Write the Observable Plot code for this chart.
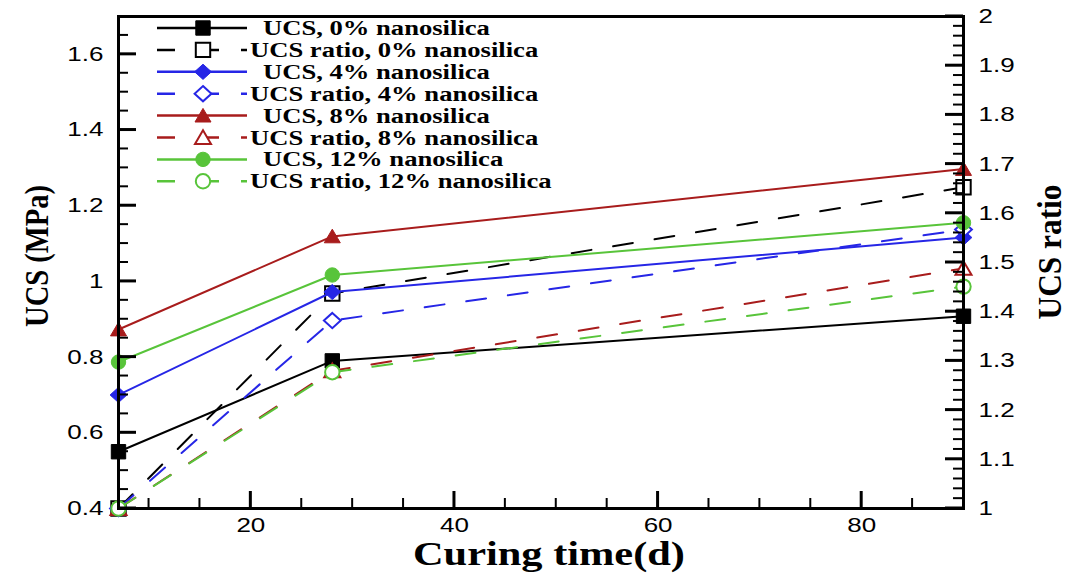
<!DOCTYPE html>
<html><head><meta charset="utf-8">
<script src="https://cdn.jsdelivr.net/npm/d3@7"></script>
<script src="https://cdn.jsdelivr.net/npm/@observablehq/plot@0.6"></script>
<style>
html,body{margin:0;padding:0;background:#fff;}
#chart{position:relative;width:1073px;height:573px;}
</style></head><body><div id="chart"></div>
<script>
// ---- data ----
const days = [7, 28, 90];
const ucs0 = [0.55, 0.79, 0.908];
const ucs4 = [0.70, 0.972, 1.116];
const ucs8 = [0.873, 1.119, 1.297];
const ucs12 = [0.787, 1.017, 1.155];
const ratio0 = [1.0, 1.437, 1.653];
const ratio4 = [1.0, 1.382, 1.567];
const ratio8 = [1.0, 1.28, 1.488];
const ratio12 = [1.0, 1.277, 1.451];
const contents = ["0%", "4%", "8%", "12%"];
const xMajor = [20, 40, 60, 80];
const yMajor = [0.4, 0.6, 0.8, 1, 1.2, 1.4, 1.6];
const ratioMajor = [1, 1.1, 1.2, 1.3, 1.4, 1.5, 1.6, 1.7, 1.8, 1.9, 2];
const xMinor = d3.range(10, 90, 5).filter(v => v % 20 !== 0);
const yMinor = d3.range(9, 34).map(k => k * 0.05).filter(v => Math.abs(v * 5 - Math.round(v * 5)) > 1e-6);
const ratioMinor = d3.range(51, 100).map(k => k * 0.02).filter(v => Math.abs(v * 10 - Math.round(v * 10)) > 1e-6);

const ucsSeries = [ucs0, ucs4, ucs8, ucs12];
const ratioSeries = [ratio0, ratio4, ratio8, ratio12];
const colors = ["#000000", "#2626e6", "#a81c1c", "#58c43a"];

// right axis (UCS ratio) expressed in left-axis units
const toLeft = r => 0.4 + (r - 1) * 1.3;
const toRatio = v => 1 + (v - 0.4) / 1.3;

// ---- symbols ----
const rOf = size => Math.sqrt(size / Math.PI);
const symSquare = {draw(c, size){const s = 0.9 * rOf(size); c.moveTo(-s,-s); c.lineTo(s,-s); c.lineTo(s,s); c.lineTo(-s,s); c.closePath();}};
const symDiamond = {draw(c, size){const r = rOf(size); const w = 1.05*r, h = 0.95*r; c.moveTo(0,-h); c.lineTo(w,0); c.lineTo(0,h); c.lineTo(-w,0); c.closePath();}};
const symTriangle = {draw(c, size){const r = rOf(size); c.moveTo(0,-0.9*r); c.lineTo(r,0.8*r); c.lineTo(-r,0.8*r); c.closePath();}};
const symCircle = {draw(c, size){const r = 0.9 * rOf(size); c.moveTo(r,0); c.arc(0,0,r,0,2*Math.PI);}};
const symbols = [symSquare, symDiamond, symTriangle, symCircle];

const rows = (vals, i, conv) => days.map((d, k) => ({day: d, value: conv(vals[k]), content: contents[i]}));

const marks = [];
for (let i = 0; i < 4; i++) {
  const u = rows(ucsSeries[i], i, v => v);
  const r = rows(ratioSeries[i], i, toLeft);
  marks.push(Plot.line(u, {x: "day", y: "value", stroke: colors[i], strokeWidth: 2}));
  marks.push(Plot.dot(u, {x: "day", y: "value", r: 8, symbol: symbols[i], fill: colors[i], stroke: colors[i], strokeWidth: 1}));
  marks.push(Plot.line(r, {x: "day", y: "value", stroke: colors[i], strokeWidth: 2, strokeDasharray: "20,22"}));
  marks.push(Plot.dot(r, {x: "day", y: "value", r: 8, symbol: symbols[i], fill: "white", stroke: colors[i], strokeWidth: 2}));
}

const W = 1073, H = 573, mL = 118, mR = 110, mT = 16, mB = 65;
const fmt = d3.format("~g");
const chart = Plot.plot({
  width: W, height: H,
  marginLeft: mL, marginRight: mR, marginTop: mT, marginBottom: mB,
  style: {fontFamily: "Liberation Sans", fontSize: "20px", color: "black", background: "white", overflow: "visible"},
  x: {domain: [7, 90], label: null},
  y: {domain: [0.4, 1.7], label: null},
  marks: [
    ...marks,
    Plot.axisY(yMajor, {anchor: "left", tickSize: 0, tickPadding: 15, tickFormat: fmt, label: null}),
    Plot.axisY(ratioMajor.map(toLeft), {anchor: "right", tickSize: 0, tickPadding: 15, tickFormat: d => fmt(+toRatio(d).toFixed(2)), label: null}),
    Plot.axisX(xMajor, {anchor: "bottom", tickSize: 0, tickPadding: 9, tickFormat: fmt, label: null}),
    Plot.frame({stroke: "black", strokeWidth: 3})
  ]
});
document.getElementById("chart").appendChild(chart);

function stretch(t, f) {
  const w = t.getComputedTextLength();
  if (w > 0) { t.setAttribute("textLength", w * f); t.setAttribute("lengthAdjust", "spacingAndGlyphs"); }
}
chart.querySelectorAll('g[aria-label$="tick label"] text').forEach(t => stretch(t, 1.3));

const svg = d3.select(chart);
// inward ticks, positioned through the chart's own scales
const sx = chart.scale("x"), sy = chart.scale("y");
const xl = sx.apply(7), xr = sx.apply(90), yb = sy.apply(0.4);
const tg = svg.append("g").attr("stroke", "black");
const addY = (vals, x0, dir, len, w) => vals.forEach(v => {
  const y = sy.apply(v);
  tg.append("line").attr("x1", x0).attr("x2", x0 + dir * len).attr("y1", y).attr("y2", y).attr("stroke-width", w);
});
addY(yMinor, xl, 1, 10, 2);
addY(yMajor, xl, 1, 18, 3);
addY(ratioMinor.map(toLeft), xr, -1, 10, 2);
addY(ratioMajor.map(toLeft), xr, -1, 18, 3);
const addX = (vals, len, w) => vals.forEach(v => {
  const x = sx.apply(v);
  tg.append("line").attr("x1", x).attr("x2", x).attr("y1", yb).attr("y2", yb - len).attr("stroke-width", w);
});
addX(xMinor, 10, 2);
addX(xMajor, 17, 3);

// axis titles
const serif = "'Liberation Serif', 'Times New Roman', serif";
svg.append("text").text("Curing time(d)")
  .attr("x", 549).attr("y", 565).attr("text-anchor", "middle")
  .attr("font-family", serif).attr("font-weight", "bold").attr("font-size", 34)
  .attr("textLength", 272).attr("lengthAdjust", "spacingAndGlyphs").attr("fill", "black");
svg.append("text").text("UCS (MPa)")
  .attr("transform", "translate(48,256) rotate(-90) scale(1,1.2)").attr("text-anchor", "middle")
  .attr("font-family", serif).attr("font-weight", "bold").attr("font-size", 28)
  .attr("textLength", 142).attr("lengthAdjust", "spacingAndGlyphs").attr("fill", "black");
svg.append("text").text("UCS ratio")
  .attr("transform", "translate(1061,252) rotate(-90) scale(1,1.2)").attr("text-anchor", "middle")
  .attr("font-family", serif).attr("font-weight", "bold").attr("font-size", 28)
  .attr("textLength", 135).attr("lengthAdjust", "spacingAndGlyphs").attr("fill", "black");

// legend
const lg = svg.append("g");
let row = 0;
for (let i = 0; i < 4; i++) {
  for (const kind of ["ucs", "ratio"]) {
    const y = 28 + row * 21.9;
    const open = kind === "ratio";
    lg.append("line").attr("x1", 157).attr("x2", 247).attr("y1", y).attr("y2", y)
      .attr("stroke", colors[i]).attr("stroke-width", 2.5)
      .attr("stroke-dasharray", open ? "18,24,20,22" : null);
    lg.append("path").attr("transform", `translate(203,${y})`)
      .attr("d", d3.symbol(symbols[i], Math.PI * 64)())
      .attr("fill", open ? "white" : colors[i]).attr("stroke", colors[i]).attr("stroke-width", open ? 2 : 1);
    const t = lg.append("text").text(open ? `UCS ratio, ${contents[i]} nanosilica` : `UCS, ${contents[i]} nanosilica`)
      .attr("x", open ? 250 : 263).attr("y", y).attr("dy", "0.35em").attr("text-anchor", "start")
      .attr("font-family", serif).attr("font-weight", "bold").attr("font-size", 20).attr("fill", "black");
    stretch(t.node(), 1.33);
    row++;
  }
}
</script></body></html>
